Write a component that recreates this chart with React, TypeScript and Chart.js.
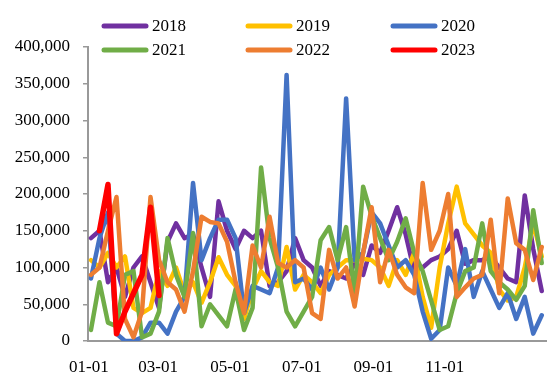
import React, { useEffect, useRef } from "react";
import { Chart, registerables } from "chart.js";

Chart.register(...registerables);

const seriesNames = ["2018", "2019", "2020", "2021", "2022", "2023"];
const seriesColors = ["#7030A0", "#FFC000", "#4472C4", "#70AD47", "#ED7D31", "#FF0000"];

const tickLabels = ["01-01", "03-01", "05-01", "07-01", "09-01", "11-01"];
const tickWeeks = [-0.24, 7.9, 16.35, 24.8, 33.2, 41.6];
const yTicks = [0, 50000, 100000, 150000, 200000, 250000, 300000, 350000, 400000];

const v2018 = [140000, 150000, 80000, 100000, 60000, 100000, 115000, 80000, 45000, 135000, 160000, 140000, 145000, 100000, 60000, 190000, 150000, 125000, 150000, 140000, 150000, 75000, 80000, 95000, 140000, 110000, 100000, 75000, 95000, 90000, 85000, 105000, 90000, 130000, 120000, 150000, 182000, 145000, 95000, 100000, 110000, 115000, 125000, 150000, 105000, 110000, 110000, 115000, 100000, 85000, 80000, 198000, 125000, 68000];
const v2019 = [110000, 100000, 120000, 100000, 115000, 45000, 38000, 45000, 95000, 75000, 100000, 65000, 80000, 52000, 80000, 114000, 90000, 75000, 30000, 70000, 95000, 80000, 75000, 128000, 70000, 90000, 80000, 65000, 90000, 100000, 110000, 110000, 112000, 110000, 100000, 75000, 110000, 90000, 120000, 60000, 18000, 100000, 160000, 210000, 160000, 145000, 130000, 120000, 70000, 55000, 60000, 100000, 160000, 115000];
const v2020 = [85000, 140000, 175000, 10000, 0, 0, 5000, 25000, 25000, 10000, 40000, 60000, 215000, 110000, 140000, 165000, 165000, 140000, 38000, 75000, 70000, 65000, 100000, 362000, 80000, 85000, 70000, 100000, 70000, 100000, 330000, 110000, 120000, 175000, 160000, 130000, 100000, 110000, 90000, 40000, 3000, 15000, 100000, 75000, 125000, 60000, 95000, 70000, 45000, 65000, 30000, 60000, 10000, 35000];
const v2021 = [15000, 80000, 25000, 20000, 90000, 95000, 5000, 10000, 40000, 140000, 90000, 60000, 147000, 20000, 50000, 35000, 20000, 70000, 15000, 45000, 236000, 140000, 100000, 40000, 20000, 40000, 60000, 137000, 155000, 110000, 155000, 65000, 210000, 170000, 140000, 110000, 135000, 167000, 120000, 95000, 55000, 15000, 20000, 65000, 95000, 100000, 160000, 95000, 80000, 70000, 56000, 75000, 178000, 106000];
const v2022 = [90000, 100000, 150000, 196000, 30000, 5000, 40000, 196000, 110000, 80000, 70000, 40000, 95000, 169000, 162000, 160000, 135000, 80000, 38000, 130000, 100000, 169000, 106000, 100000, 110000, 100000, 38000, 30000, 124000, 85000, 100000, 47000, 120000, 182000, 80000, 124000, 90000, 73000, 65000, 215000, 124000, 150000, 200000, 60000, 73000, 85000, 90000, 165000, 65000, 194000, 133000, 124000, 83000, 128000];
const v2023 = [null, 150000, 213000, 10000, 40000, 65000, 90000, 182000, 62000];

const seriesValues = [v2018, v2019, v2020, v2021, v2022, v2023];

const FONT = "'Liberation Serif', 'Times New Roman', serif";

const legendPlugin = {
  id: "gridLegend",
  afterDraw(chart: any) {
    const ctx = chart.ctx;
    const cols = [102, 246, 391];
    const rows = [26, 50];
    ctx.save();
    chart.data.datasets.forEach((ds: any, i: number) => {
      const x = cols[i % 3];
      const y = rows[Math.floor(i / 3)];
      ctx.strokeStyle = ds.borderColor;
      ctx.lineWidth = 5;
      ctx.lineCap = "round";
      ctx.beginPath();
      ctx.moveTo(x + 2, y);
      ctx.lineTo(x + 44, y);
      ctx.stroke();
      ctx.fillStyle = "#000";
      ctx.font = `17px ${FONT}`;
      ctx.textBaseline = "middle";
      ctx.textAlign = "left";
      ctx.fillText(ds.label, x + 50, y + 1);
    });
    ctx.restore();
  },
};

export default function App() {
  const ref = useRef<HTMLCanvasElement | null>(null);
  useEffect(() => {
    if (!ref.current) return;
    const datasets = seriesValues.map((vals, si) => ({
      label: seriesNames[si],
      data: vals
        .map((v, i) => (v === null ? null : { x: i, y: v }))
        .filter((p) => p !== null),
      borderColor: seriesColors[si],
      backgroundColor: seriesColors[si],
      borderWidth: si === 5 ? 5.5 : 4.5,
      pointRadius: 0,
      tension: 0,
      borderJoinStyle: "round",
      borderCapStyle: "round",
      order: 5 - si,
    }));
    const chart = new Chart(ref.current, {
      type: "line",
      data: { datasets: datasets as any },
      options: {
        animation: false,
        responsive: false,
        layout: { padding: { top: 47, right: 4, left: 0, bottom: 0 } },
        plugins: { legend: { display: false }, tooltip: { enabled: false } },
        scales: {
          x: {
            type: "linear",
            min: -0.35,
            max: 53.5,
            afterBuildTicks: (scale: any) => {
              scale.ticks = tickWeeks.map((v) => ({ value: v }));
            },
            afterFit: (scale: any) => {
              scale.height = 44;
            },
            ticks: {
              autoSkip: false,
              maxRotation: 0,
              padding: 8,
              color: "#000",
              font: { family: FONT, size: 17 },
              callback: (v: any) => {
                const idx = tickWeeks.indexOf(v);
                return idx >= 0 ? tickLabels[idx] : "";
              },
            },
            grid: { display: false },
            border: { display: true, color: "#999", width: 2 },
          },
          y: {
            min: 0,
            max: 400000,
            afterBuildTicks: (scale: any) => {
              scale.ticks = yTicks.map((v) => ({ value: v }));
            },
            afterFit: (scale: any) => {
              scale.width = 88;
            },
            ticks: {
              padding: 13,
              color: "#000",
              font: { family: FONT, size: 17 },
              callback: (v: any) => Number(v).toLocaleString("en-US"),
            },
            grid: {
              drawOnChartArea: false,
              drawTicks: true,
              tickLength: 5,
              color: "#999",
              lineWidth: 1.5,
            },
            border: { display: true, color: "#999", width: 2 },
          },
        },
      },
      plugins: [legendPlugin],
    });
    return () => chart.destroy();
  }, []);
  return (
    <div style={{ position: "absolute", left: 0, top: 0, width: 550, height: 385, background: "#fff" }}>
      <canvas ref={ref} width={550} height={385} />
    </div>
  );
}
